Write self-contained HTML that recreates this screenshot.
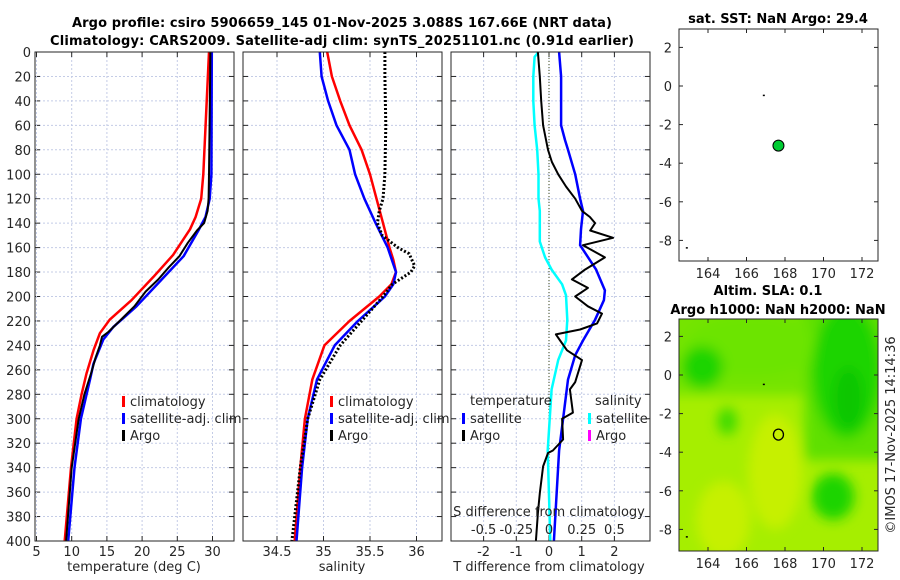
<!DOCTYPE html>
<html><head><meta charset="utf-8">
<style>
html,body{margin:0;padding:0;background:#fff;}
svg{display:block;font-family:"DejaVu Sans","Liberation Sans",sans-serif;}
.tk{font-size:13px;fill:#262626;}
.ttl{font-size:13px;font-weight:bold;fill:#000;}
</style></head>
<body>
<svg id="fig" width="900" height="580" viewBox="0 0 900 580" xmlns="http://www.w3.org/2000/svg">
<defs><filter id="blur" x="-50%" y="-50%" width="200%" height="200%"><feGaussianBlur stdDeviation="6"/></filter>
<clipPath id="mapclip"><rect x="679" y="319" width="199" height="232"/></clipPath></defs>
<text class="ttl" x="342" y="27" text-anchor="middle" textLength="540">Argo profile: csiro 5906659_145 01-Nov-2025 3.088S 167.66E (NRT data)</text>
<text class="ttl" x="342" y="45" text-anchor="middle" textLength="584">Climatology: CARS2009. Satellite-adj clim: synTS_20251101.nc (0.91d earlier)</text>
<text class="ttl" x="778" y="23" text-anchor="middle">sat. SST: NaN Argo: 29.4</text>
<text class="ttl" x="768" y="295" text-anchor="middle">Altim. SLA: 0.1</text>
<text class="ttl" x="778" y="314" text-anchor="middle">Argo h1000: NaN h2000: NaN</text>
<text class="tk" x="0" y="0" transform="translate(895,435) rotate(-90)" text-anchor="middle">©IMOS 17-Nov-2025 14:14:36</text>
<g id="layer"></g>
</svg>
<script>
// ---------------- data ----------------
const depthTicks=[0,20,40,60,80,100,120,140,160,180,200,220,240,260,280,300,320,340,360,380,400];
const tempTicks=[5,10,15,20,25,30];
const salTicks=[34.5,35,35.5,36];
const tdiffTicks=[-2,-1,0,1,2];
const sdiffTickLabels=["-0.5","-0.25","0","0.25","0.5"];
const sdiffTicks=[-0.5,-0.25,0,0.25,0.5];
const lonTicks=[164,166,168,170,172];
const latTicks=[2,0,-2,-4,-6,-8];

const tClimDepth=[0,100,120,135,145,166,184,203,219,230,244,263,280,300,340,400];
const tClim=[29.5,28.7,28.4,27.6,26.8,24.4,21.6,18.5,15.4,14.0,13.1,12.1,11.4,10.7,9.9,9.0];
const tSatDepth=[0,100,120,135,146,167,186,208,225,235,255,268,300,340,400];
const tSat=[29.9,29.85,29.6,29.0,28.0,25.9,22.8,19.2,15.9,14.5,13.1,12.6,11.3,10.4,9.5];
const tArgoDepth=[0,100,120,130,140,146,156,167,176,186,196,208,220,229,233,240,250,262,280,300,340,400];
const tArgo=[29.7,29.5,29.45,29.3,28.8,27.8,26.5,25.3,23.8,22.3,20.5,18.9,16.8,15.2,14.3,14.0,13.4,12.8,11.8,11.0,10.0,9.2];

const sClimDepth=[0,20,40,60,80,100,120,140,160,170,180,190,200,220,240,268,300,340,400];
const sClim=[35.04,35.09,35.18,35.28,35.41,35.50,35.57,35.64,35.71,35.75,35.78,35.73,35.60,35.28,35.01,34.88,34.80,34.75,34.69];
const sSatDepth=[0,20,40,60,80,100,120,140,160,180,190,200,220,240,268,300,340,400];
const sSat=[34.96,34.98,35.05,35.14,35.28,35.34,35.44,35.56,35.69,35.78,35.75,35.66,35.37,35.12,34.93,34.83,34.77,34.71];
const sArgoDepth=[0,20,60,100,120,130,140,150,160,165,175,180,185,190,200,220,240,268,300,340,400];
const sArgo=[35.66,35.66,35.67,35.66,35.64,35.60,35.58,35.63,35.80,35.92,35.98,35.94,35.84,35.74,35.64,35.41,35.18,34.96,34.83,34.75,34.66];

const dTArgoDepth=[0,20,40,60,80,90,100,110,120,130,135,140,146,152,158,168,178,186,193,200,208,214,222,227,231,236,244,252,270,276,295,300,317,326,328,339,361,377,400];
const dTArgo=[-0.34,-0.28,-0.24,-0.18,-0.03,0.09,0.28,0.52,0.80,1.01,1.25,1.41,1.26,1.96,1.04,1.71,1.10,0.70,1.19,0.80,1.19,1.62,1.47,0.95,0.21,0.34,0.55,1.01,0.80,0.64,0.73,0.40,0.43,0.12,-0.03,-0.18,-0.28,-0.34,-0.40];
const dTSatDepth=[0,20,40,60,72,80,100,120,130,145,158,178,195,203,219,236,248,268,300,326,400];
const dTSat=[0.31,0.37,0.37,0.37,0.49,0.58,0.80,0.95,1.04,0.98,0.95,1.44,1.71,1.68,1.41,1.04,0.80,0.58,0.43,0.31,0.15];
const dSSatDepth=[0,4,20,40,60,80,100,120,130,155,168,178,190,199,219,236,252,276,326,400];
const dSSat=[-0.08,-0.11,-0.12,-0.12,-0.11,-0.09,-0.08,-0.08,-0.07,-0.07,-0.03,0.02,0.10,0.13,0.14,0.13,0.07,0.02,-0.01,0.01];

const argoLon=[167.66]; const argoLat=[-3.088];
const dotLon=[166.9,162.9]; const dotLat=[-0.5,-8.4];
const blobLon=[166.3,163.7,171.2,170.5,165.0,171.3,167.5,164.8];
const blobLat=[1.5,0.4,0.2,-6.3,-2.4,-1.2,-5.0,-7.5];
const blobRx=[3.5,1.1,1.8,1.1,0.5,0.8,1.4,1.4];
const blobRy=[1.6,1.1,3.5,1.2,0.7,1.6,3.0,2.0];
const blobLevel=[1,3,3,3,2,4,-1,-1];

// --------------- helpers ---------------
const NS="http://www.w3.org/2000/svg";
const layer=document.getElementById('layer');
function mk(tag,attrs,parent){const e=document.createElementNS(NS,tag);for(const k in attrs)e.setAttribute(k,attrs[k]);(parent||layer).appendChild(e);return e;}
const yTop=52,yBot=541;
const yD=d=>yTop+(d/400)*(yBot-yTop);
function lin(d0,d1,r0,r1){return v=>r0+(v-d0)/(d1-d0)*(r1-r0);}

function panel(name,x0,x1,xs,xt,xlabels,gridYLabels){
  const g=mk('g',{});
  
  
  depthTicks.forEach(d=>{const l=mk('line',{x1:x0,x2:x1,y1:yD(d),y2:yD(d),stroke:'#c4cce6','stroke-width':1,'stroke-dasharray':'2,2'},g);
    
    mk('line',{x1:x0,x2:x0+5,y1:yD(d),y2:yD(d),stroke:'#262626'},g);mk('line',{x1:x1-5,x2:x1,y1:yD(d),y2:yD(d),stroke:'#262626'},g);
    if(gridYLabels){const t=mk('text',{x:x0-4,y:yD(d)+5,'text-anchor':'end',class:'tk'},g);t.textContent=d;
      }
  });
  xt.forEach((v,i)=>{const x=xs(v);const l=mk('line',{x1:x,x2:x,y1:yTop,y2:yBot,stroke:'#c4cce6','stroke-width':1,'stroke-dasharray':'2,2'},g);
    
    mk('line',{x1:x,x2:x,y1:yBot-5,y2:yBot,stroke:'#262626'},g);mk('line',{x1:x,x2:x,y1:yTop,y2:yTop+5,stroke:'#262626'},g);
    const t=mk('text',{x:x,y:yBot+15,'text-anchor':'middle',class:'tk'},g);t.textContent=xlabels?xlabels[i]:v;
    });
  return g;
}
function line(g,xs,vals,depths,color,w,dash,name){
  const pts=vals.map((v,i)=>xs(v).toFixed(1)+','+yD(depths[i]).toFixed(1)).join(' ');
  const p=mk('polyline',{points:pts,fill:'none',stroke:color,'stroke-width':w,'stroke-linejoin':'round'},g);
  if(dash)p.setAttribute('stroke-dasharray',dash);
  
  
}
function box(g,x0,x1){mk('rect',{x:x0,y:yTop,width:x1-x0,height:yBot-yTop,fill:'none',stroke:'#262626','stroke-width':1},g);}
function legend(g,x,y,color,label,name){
  mk('rect',{x:x,y:y-9,width:3,height:11,fill:color},g);
  const t=mk('text',{x:x+8,y:y+1,class:'tk'},g);t.textContent=label;
  
  
}
function txt(g,x,y,s,anchor,name){const t=mk('text',{x:x,y:y,class:'tk','text-anchor':anchor},g);t.textContent=s;
  
  return t;}

// ---------- panel 1: temperature ----------
const xT=lin(5,30,36.5,212.5);
const p1=panel('temperature-panel',35,234,xT,tempTicks,null,true);
line(p1,xT,tClim,tClimDepth,'#ff0000',2.5,null,'temp-climatology-line');
line(p1,xT,tSat,tSatDepth,'#0000ff',2.5,null,'temp-satellite-line');
line(p1,xT,tArgo,tArgoDepth,'#000000',2,null,'temp-argo-line');
box(p1,35,234);
legend(p1,122,405,'#ff0000','climatology','legend-climatology');
legend(p1,122,422,'#0000ff','satellite-adj. clim','legend-satellite');
legend(p1,122,439,'#000000','Argo','legend-argo');
txt(p1,134,571,'temperature (deg C)','middle','x-axis-title-temperature');

// ---------- panel 2: salinity ----------
const xS=lin(34.5,35.5,277,370);
const p2=panel('salinity-panel',243,442,xS,salTicks,null,false);
line(p2,xS,sClim,sClimDepth,'#ff0000',2.5,null,'sal-climatology-line');
line(p2,xS,sSat,sSatDepth,'#0000ff',2.5,null,'sal-satellite-line');
line(p2,xS,sArgo,sArgoDepth,'#000000',3,'2,2','sal-argo-line');
box(p2,243,442);
legend(p2,330,405,'#ff0000','climatology','legend-climatology');
legend(p2,330,422,'#0000ff','satellite-adj. clim','legend-satellite');
legend(p2,330,439,'#000000','Argo','legend-argo');
txt(p2,342,571,'salinity','middle','x-axis-title-salinity');

// ---------- panel 3: differences ----------
const xD=lin(0,1,549,581.7);
const xSD=lin(0,0.25,549,581.7);
const p3=panel('difference-panel',451,650,xD,tdiffTicks,null,false);
mk('line',{x1:549,x2:549,y1:yTop,y2:yBot,stroke:'#3d4a1e','stroke-width':1,'stroke-dasharray':'1,2'},p3);
line(p3,xSD,dSSat,dSSatDepth,'#00ffff',2.5,null,'sdiff-satellite-line');
line(p3,xD,dTSat,dTSatDepth,'#0000ff',2.5,null,'tdiff-satellite-line');
line(p3,xD,dTArgo,dTArgoDepth,'#000000',2,null,'tdiff-argo-line');
box(p3,451,650);
txt(p3,470,405,'temperature','start','legend-temperature-header');
txt(p3,595,405,'salinity','start','legend-salinity-header');
legend(p3,462,422,'#0000ff','satellite','legend-t-satellite');
legend(p3,462,439,'#000000','Argo','legend-t-argo');
legend(p3,588,422,'#00ffff','satellite','legend-s-satellite');
legend(p3,588,439,'#ff00ff','Argo','legend-s-argo');
txt(p3,549,516,'S difference from climatology','middle','s-diff-axis-title');
sdiffTicks.forEach((v,i)=>txt(p3,xSD(v),534,sdiffTickLabels[i],'middle','s-diff-tick-label'));
txt(p3,549,571,'T difference from climatology','middle','x-axis-title-tdiff');

// ---------- maps ----------
const mx0=679,mx1=878;
const lonX=lin(164,172,708,862);
function mapAxes(g,yy,yTopM,yBotM){
  lonTicks.forEach(v=>{const x=lonX(v);mk('line',{x1:x,x2:x,y1:yBotM-4,y2:yBotM,stroke:'#262626'},g);mk('line',{x1:x,x2:x,y1:yTopM,y2:yTopM+4,stroke:'#262626'},g);
    txt(g,x,yBotM+17,String(v),'middle','lon-tick-label');});
  latTicks.forEach(v=>{const y=yy(v);mk('line',{x1:mx0,x2:mx0+4,y1:y,y2:y,stroke:'#262626'},g);mk('line',{x1:mx1-4,x2:mx1,y1:y,y2:y,stroke:'#262626'},g);
    txt(g,mx0-7,y+5,String(v),'end','lat-tick-label');});
  mk('rect',{x:mx0,y:yTopM,width:mx1-mx0,height:yBotM-yTopM,fill:'none',stroke:'#262626'},g);
}
const latY1=lin(0,-2,86,124.6);
const m1=mk('g',{});


dotLon.forEach((v,i)=>mk('rect',{x:lonX(v)-1,y:latY1(dotLat[i])-1,width:2,height:1.5,fill:'#000'},m1));
argoLon.forEach((v,i)=>{const c=mk('circle',{cx:lonX(v),cy:latY1(argoLat[i]),r:5.5,fill:'#00cc33',stroke:'#000','stroke-width':1},m1);
  });
mapAxes(m1,latY1,29,261);
const latY2=lin(0,-2,375,413.6);
const m2=mk('g',{});


const shades={'-1':'#c6f000','1':'#6ce400','2':'#3cda00','3':'#1ed400','4':'#0ac600'};
const hm=mk('g',{'clip-path':'url(#mapclip)'},m2);
mk('rect',{x:mx0,y:319,width:mx1-mx0,height:232,fill:'#a6ee00'},hm);
const hb=mk('g',{filter:'url(#blur)'},hm);
mk('rect',{x:mx0-20,y:300,width:240,height:95,fill:'#74e400'},hb);
mk('rect',{x:lonX(169),y:300,width:120,height:160,fill:'#5ee000'},hb);
blobLon.forEach((v,i)=>{const e=mk('ellipse',{cx:lonX(v),cy:latY2(blobLat[i]),rx:blobRx[i]*19.2,ry:blobRy[i]*19.3,fill:shades[String(blobLevel[i])]},hb);
  });
dotLon.forEach((v,i)=>mk('rect',{x:lonX(v)-1,y:latY2(dotLat[i])-1,width:2,height:1.5,fill:'#000'},m2));
argoLon.forEach((v,i)=>{const c=mk('ellipse',{cx:lonX(v),cy:latY2(argoLat[i]),rx:5,ry:5.5,fill:'none',stroke:'#000','stroke-width':1.3},m2);
  });
mapAxes(m2,latY2,319,551);
</script>
</body></html>
